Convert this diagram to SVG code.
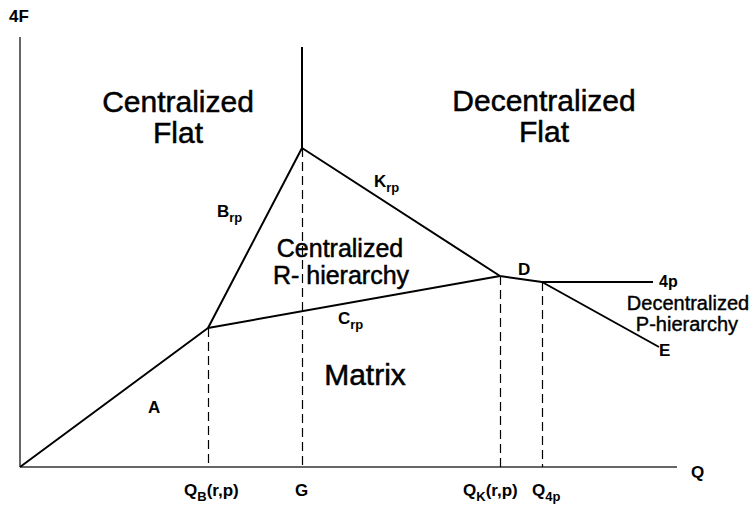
<svg xmlns="http://www.w3.org/2000/svg" width="753" height="508" viewBox="0 0 753 508">
<style>
.bg{fill:#fff}
.axis{stroke:#333;stroke-width:1.5;fill:none}
.ln{stroke:#000;stroke-width:2;fill:none;stroke-linejoin:round}
.dash{stroke:#000;stroke-width:1.2;stroke-dasharray:9,5;fill:none}
.big,.mid,.sm{font-family:"Liberation Sans",Arial,sans-serif;fill:#000;stroke:#000;stroke-width:0.5;text-anchor:middle}
.big{font-size:30px}
.mid{font-size:25px}
.sm{font-size:20px;stroke-width:0.4}
.lab{font-family:"Liberation Sans",Arial,sans-serif;font-size:17px;font-weight:bold;fill:#000}
.sub{font-size:13px}
</style>
<rect class="bg" x="0" y="0" width="753" height="508"/>
<g id="connectors">
<line class="axis" x1="20" y1="37" x2="20" y2="467"/>
<line class="axis" x1="20" y1="467" x2="677" y2="467"/>
<line class="dash" x1="208.5" y1="328" x2="208.5" y2="467"/>
<line class="dash" x1="302.5" y1="148" x2="302.5" y2="467"/>
<line class="dash" x1="500.5" y1="276" x2="500.5" y2="467"/>
<line class="dash" x1="542.5" y1="282" x2="542.5" y2="467"/>
<polyline class="ln" points="20,467 208,328 302,148 500,276 542,282 659,347"/>
<line class="ln" x1="302" y1="47" x2="302" y2="148"/>
<line class="ln" x1="208" y1="328" x2="500" y2="276"/>
<line class="ln" x1="542" y1="282" x2="653" y2="282"/>
</g>
<g id="axis-labels">
<text class="lab" x="9" y="22">4F</text>
<text class="lab" x="691" y="478">Q</text>
<text class="lab" x="184" y="496">Q<tspan class="sub" dy="5">B</tspan><tspan dy="-5">(r,p)</tspan></text>
<text class="lab" x="295" y="496">G</text>
<text class="lab" x="463" y="496">Q<tspan class="sub" dy="5">K</tspan><tspan dy="-5">(r,p)</tspan></text>
<text class="lab" x="532" y="496">Q<tspan class="sub" dy="5">4p</tspan></text>
</g>
<g id="region-centralized-flat"><text class="big" x="178" y="112">Centralized</text><text class="big" x="178" y="143">Flat</text></g>
<g id="region-decentralized-flat"><text class="big" x="544" y="111">Decentralized</text><text class="big" x="544" y="142">Flat</text></g>
<g id="region-centralized-r"><text class="mid" x="340" y="257">Centralized</text><text class="mid" x="341" y="284">R- hierarchy</text></g>
<g id="region-matrix"><text class="big" x="365" y="385">Matrix</text></g>
<g id="region-decentralized-p"><text class="sm" x="688" y="310">Decentralized</text><text class="sm" x="687" y="331">P-hierarchy</text></g>
<g id="line-labels">
<text class="lab" x="148" y="413">A</text>
<text class="lab" x="217" y="217">B<tspan class="sub" dy="5">rp</tspan></text>
<text class="lab" x="374" y="187">K<tspan class="sub" dy="5">rp</tspan></text>
<text class="lab" x="338" y="324">C<tspan class="sub" dy="5">rp</tspan></text>
<text class="lab" x="518" y="275">D</text>
<text class="lab" x="659" y="287" style="font-size:16px">4p</text>
<text class="lab" x="659" y="356">E</text>
</g>
</svg>
